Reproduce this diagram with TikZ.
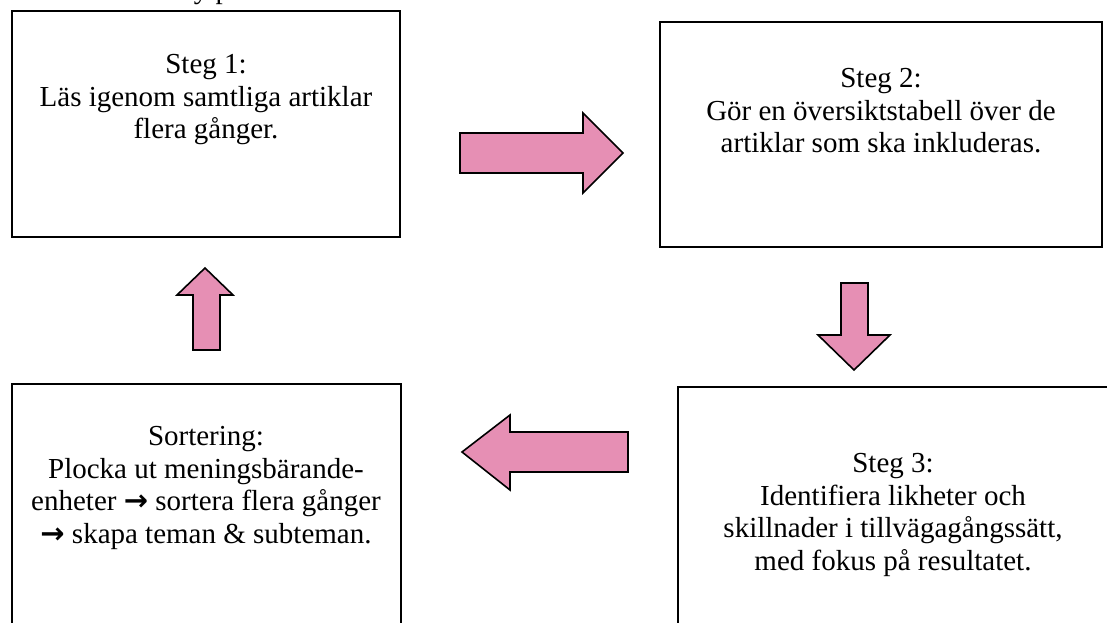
\documentclass[tikz,border=0pt]{standalone}
\usepackage{fontspec}
\setmainfont{Liberation Serif}
\newfontfamily\arrowfont{DejaVu Sans}
\definecolor{pinkfill}{RGB}{230,143,180}
\begin{document}
\begin{tikzpicture}[x=1pt,y=-1pt,
  box/.style={draw=black,line width=2pt,inner sep=0pt,fill=none},
  txt/.style={align=center,font=\fontsize{29}{32.5}\selectfont,inner sep=0pt},
  blockarrow/.style={draw=black,line width=1.6pt,fill=pinkfill,line join=miter}]
\useasboundingbox (0,0) rectangle (1107,623);
% top fragment
\node[font=\fontsize{29}{32.5}\selectfont,anchor=base,inner sep=0pt] (frag) at (212,-1) {y p};
% boxes
\node[box,minimum width=388pt,minimum height=226pt] (b1) at (206,124) {};
\node[box,minimum width=442pt,minimum height=225pt] (b2) at (881,134.5) {};
\node[box,minimum width=432pt,minimum height=260pt] (b3) at (894,517) {};
\node[box,minimum width=389pt,minimum height=260pt] (b4) at (206.5,514) {};
% texts
\node[txt] (t1) at (206,100) {Steg 1:\\Läs igenom samtliga artiklar\\flera gånger.};
\node[txt] (t2) at (881,111) {Steg 2:\\Gör en översiktstabell över de\\artiklar som ska inkluderas.};
\node[txt] (t3) at (893,515) {Steg 3:\\Identifiera likheter och\\skillnader i tillvägagångssätt,\\med fokus på resultatet.};
\node[txt] (t4) at (206,488) {Sortering:\\Plocka ut meningsbärande-\\enheter {\arrowfont\bfseries →} sortera flera gånger\\{\arrowfont\bfseries →} skapa teman \& subteman.};
% block arrows
\draw[blockarrow] (460,133) -- (583,133) -- (583,113) -- (623,153) -- (583,193) -- (583,173) -- (460,173) -- cycle;
\draw[blockarrow] (193,350) -- (193,295) -- (177,295) -- (205,268) -- (233,295) -- (220,295) -- (220,350) -- cycle;
\draw[blockarrow] (841,283) -- (868,283) -- (868,335) -- (890,335) -- (854,370) -- (818,335) -- (841,335) -- cycle;
\draw[blockarrow] (628,432) -- (510,432) -- (510,415) -- (462,452) -- (510,490) -- (510,472) -- (628,472) -- cycle;
\end{tikzpicture}
\end{document}
